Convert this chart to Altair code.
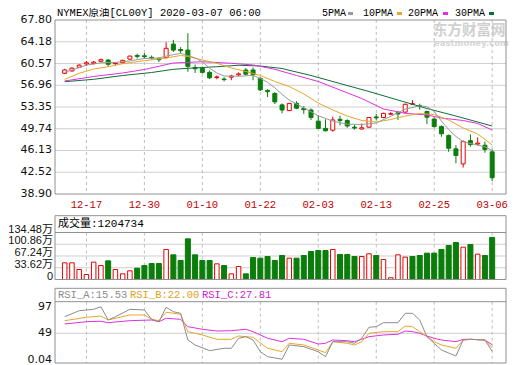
import altair as alt
import pandas as pd

# ---------------- data ----------------
opens = [58.95, 59.35, 59.95, 60.5, 60.6, 60.95, 61.15, 60.55, 60.7, 61.3,
         61.9, 61.85, 61.6, 61.35, 61.55, 63.8, 62.9, 62.8, 59.9, 59.8,
         59.1, 58.25, 58.0, 58.3, 58.7, 59.5, 59.5, 58.1, 56.1, 55.6,
         53.7, 52.75, 53.95, 53.1, 52.85, 51.0, 49.8, 49.5, 51.3, 51.1,
         50.0, 49.7, 50.0, 51.7, 51.6, 52.15, 52.4, 52.5, 53.8, 53.6,
         52.6, 51.35, 50.1, 48.6, 46.4, 43.9, 47.75, 47.2, 47.0, 45.9]
highs = [59.7, 59.95, 60.45, 61.0, 61.0, 61.4, 61.3, 60.8, 61.2, 61.9,
         62.2, 62.3, 61.9, 61.6, 64.1, 64.5, 63.3, 65.6, 60.4, 60.05,
         59.4, 58.6, 58.3, 58.7, 59.1, 59.8, 59.9, 58.3, 56.3, 55.8,
         53.95, 54.0, 54.3, 53.5, 53.1, 52.0, 51.3, 51.75, 51.9, 51.3,
         50.4, 50.6, 51.7, 52.2, 52.4, 52.5, 52.7, 53.9, 54.5, 53.9,
         52.75, 51.6, 50.3, 48.8, 47.0, 47.8, 48.8, 48.3, 47.6, 46.3]
lows = [58.8, 59.2, 59.85, 60.2, 60.4, 60.8, 60.05, 60.3, 60.6, 61.2,
        61.4, 61.4, 61.2, 60.8, 61.4, 62.5, 62.3, 59.2, 59.0, 58.9,
        58.0, 57.95, 57.6, 57.8, 58.5, 58.6, 57.8, 56.0, 55.0, 53.85,
        52.3, 52.7, 53.0, 52.2, 51.2, 49.7, 49.3, 49.25, 50.3, 49.9,
        49.6, 49.6, 49.9, 51.1, 51.5, 52.0, 51.2, 52.4, 53.75, 52.9,
        50.5, 49.9, 48.4, 45.9, 44.0, 43.3, 46.75, 47.0, 45.75, 41.05]
closes = [59.5, 59.8, 60.3, 60.7, 60.8, 61.2, 60.45, 60.65, 61.1, 61.8,
          61.75, 61.7, 61.5, 61.2, 63.1, 62.8, 62.7, 60.1, 59.7, 59.1,
          58.2, 58.35, 57.9, 58.5, 58.85, 58.8, 58.7, 56.2, 55.9, 54.2,
          52.85, 53.95, 53.15, 52.9, 51.6, 49.8, 49.4, 51.2, 51.1, 50.2,
          49.85, 49.9, 51.6, 51.55, 52.3, 52.25, 52.2, 53.8, 53.9, 53.45,
          51.65, 50.1, 48.9, 46.5, 45.3, 47.6, 47.1, 47.35, 46.3, 41.6]
# volume in 万
volume = [47.7, 47.7, 28.6, 14.3, 49.6, 40.0, 53.4, 28.6, 16.2, 24.8,
          32.4, 40.0, 45.8, 45.8, 85.9, 70.6, 54.4, 116.4, 70.6, 54.4,
          54.4, 44.8, 40.0, 16.2, 37.2, 16.2, 63.0, 61.0, 65.8, 54.4,
          68.7, 61.0, 61.0, 68.7, 80.1, 83.0, 83.0, 85.9, 71.6, 71.6,
          65.8, 65.8, 73.5, 68.7, 57.2, 5.0, 70.6, 63.9, 65.8, 68.7,
          75.4, 75.4, 85.9, 97.3, 105.9, 92.5, 100.2, 72.5, 68.7, 120.47]
vol_up = [1, 1, 1, 1, 1, 1, 0, 1, 1, 1,
          0, 0, 0, 0, 1, 0, 0, 0, 0, 0,
          0, 1, 0, 1, 1, 0, 0, 0, 0, 0,
          0, 1, 0, 0, 0, 0, 0, 1, 0, 0,
          0, 1, 1, 0, 1, 1, 1, 1, 0, 0,
          0, 0, 0, 0, 0, 1, 0, 1, 0, 0]

tick_idx = [3, 11, 19, 27, 35, 43, 51, 59]
tick_lab = ["12-17", "12-30", "01-10", "01-22", "02-03", "02-13", "02-25", "03-06"]

price_ticks = [67.80, 64.18, 60.57, 56.96, 53.35, 49.74, 46.13, 42.52, 38.90]
price_labels = ["67.80", "64.18", "60.57", "56.96", "53.35", "49.74", "46.13", "42.52", "38.90"]
vol_ticks = [134.48, 100.86, 67.24, 33.62, 0]
vol_labels = ["134.48万", "100.86万", "67.24万", "33.62万", "0"]
rsi_ticks = [97, 49, 0.04]
rsi_labels = ["97", "49", "0.04"]

ma5_idx = [0, 1, 3, 5, 7, 9, 11, 13, 14, 15, 16, 17, 18, 19, 20, 21, 22, 24, 26, 27, 28,
           29, 30, 31, 33, 35, 37, 39, 41, 43, 45, 47, 49, 50, 51, 52, 53, 54, 55, 57, 58, 59]
ma5_val = [59.1, 59.5, 60.3, 60.7, 60.75, 61.0, 61.4, 61.5, 61.8, 62.05, 62.25, 61.9, 61.5,
           60.85, 59.8, 59.0, 58.5, 58.45, 58.6, 58.1, 57.45, 56.55, 55.45, 54.5, 53.2, 51.9,
           51.0, 50.5, 50.45, 50.7, 51.8, 53.0, 53.55, 53.4, 52.6, 51.0, 49.6, 48.45, 47.6,
           47.0, 46.75, 46.1]
ma10_idx = [0, 2, 4, 6, 8, 11, 14, 16, 17, 19, 21, 23, 25, 27, 29, 31, 33, 35, 37, 39, 41,
            43, 45, 47, 49, 51, 53, 55, 57, 59]
ma10_val = [57.95, 58.95, 59.66, 60.04, 60.54, 61.04, 61.49, 61.9, 61.74, 61.16, 60.61,
            59.83, 59.25, 58.58, 57.59, 56.75, 55.51, 54.01, 52.85, 51.85, 51.11, 50.86,
            51.27, 51.85, 52.27, 52.1, 51.19, 49.86, 48.87, 47.04]
ma20_idx = [0, 4, 8, 11, 15, 19, 23, 26, 29, 32, 35, 38, 41, 44, 47, 50, 52, 55, 57, 59]
ma20_val = [57.67, 58.42, 59.0, 59.58, 60.66, 60.87, 60.61, 60.33, 59.61, 58.58, 57.59,
            56.17, 54.76, 53.02, 52.3, 52.02, 51.52, 51.11, 50.61, 49.53]
ma30_idx = [0, 4, 8, 12, 15, 17, 21, 24, 27, 30, 34, 38, 42, 46, 50, 54, 59]
ma30_val = [57.55, 57.95, 58.58, 59.08, 59.61, 59.78, 60.04, 60.28, 60.16, 59.74, 58.58,
            57.25, 55.92, 54.51, 53.1, 51.85, 50.19]

rsia_idx = [0, 2, 4, 5, 6, 7, 9, 11, 12, 13, 14, 15, 16, 17, 18, 20, 22, 23, 24, 25, 26, 27,
            28, 29, 30, 31, 33, 35, 36, 37, 39, 40, 41, 42, 43, 44, 46, 47, 48, 49, 50, 51,
            52, 53, 54, 55, 56, 58, 59]
rsia_val = [79.6, 90.7, 93.3, 98.0, 73.6, 79.6, 93.3, 92.0, 74.8, 70.4, 97.0, 88.9, 85.9,
            36.6, 27.4, 16.9, 21.3, 21.3, 39.8, 42.7, 36.6, 15.0, 5.8, 3.5, 1.0, 27.4, 24.3,
            15.0, 5.8, 33.5, 33.5, 30.5, 39.8, 60.1, 61.2, 68.6, 68.6, 85.9, 85.9, 73.6, 42.7,
            30.5, 18.2, 12.6, 7.1, 36.6, 37.9, 36.6, 15.53]
rsib_idx = [0, 3, 5, 6, 9, 11, 12, 13, 14, 16, 17, 19, 21, 23, 24, 26, 27, 28, 30, 31, 33,
            35, 36, 37, 39, 40, 41, 42, 44, 46, 47, 48, 49, 50, 51, 52, 54, 55, 56, 58, 59]
rsib_val = [72.3, 78.5, 80.9, 73.6, 82.8, 82.8, 74.8, 72.3, 87.8, 84.1, 52.0, 45.9, 37.9,
            37.9, 44.0, 41.6, 31.0, 21.3, 15.0, 30.5, 27.4, 18.2, 13.2, 33.5, 30.5, 27.4,
            33.5, 49.0, 52.0, 52.0, 62.5, 61.2, 52.0, 42.7, 33.5, 27.4, 21.3, 36.6, 37.9,
            36.6, 22.0]
rsic_idx = [0, 3, 5, 6, 9, 12, 13, 14, 16, 17, 19, 21, 23, 25, 26, 27, 28, 30, 31, 33, 35,
            36, 37, 39, 40, 41, 42, 44, 46, 47, 48, 49, 50, 51, 52, 54, 55, 56, 58, 59]
rsic_val = [66.2, 70.4, 71.2, 68.6, 72.3, 73.6, 70.4, 76.7, 74.8, 61.2, 56.4, 53.2, 53.8,
            56.4, 52.0, 45.9, 39.8, 33.5, 39.8, 37.9, 29.2, 30.5, 36.6, 35.3, 33.5, 37.9,
            42.7, 45.9, 47.2, 53.2, 52.0, 49.0, 44.0, 39.8, 36.6, 33.5, 37.9, 37.9, 36.6,
            27.81]

assert len(opens) == len(highs) == len(lows) == len(closes) == len(volume) == len(vol_up) == 60

# ---------------- styling ----------------
RED = "#e60000"
GREEN = "#0b7d0b"
C5 = "#9a9a9a"
C10 = "#e8a62a"
C20 = "#e030e0"
C30 = "#146b3a"
FRAME = "#909090"
GRID = "#cfcfcf"
VGRID = "#bdbdbd"
MONO = "Liberation Mono, Noto Sans CJK SC"
SANS = "DejaVu Sans, Noto Sans CJK SC"
NARROW = "Liberation Sans, Noto Sans CJK SC"
W, H = 451, 343

df = pd.DataFrame({"i": list(range(60)), "o": opens, "h": highs, "l": lows,
                   "c": closes, "v": volume, "vu": vol_up})
df["up"] = df["c"] >= df["o"]
ticks_df = pd.DataFrame({"i": tick_idx, "lab": tick_lab})
one = pd.DataFrame({"a": [0]})

xs = alt.Scale(domain=[-0.648, 60.22], nice=False, zero=False)
X = alt.X("i:Q", scale=xs, axis=None)
ys_main = alt.Scale(domain=[38.9, 67.8], range=[174, 0], nice=False, zero=False)
ys_vol = alt.Scale(domain=[0, 134.48], range=[259.5, 212.5], nice=False)
ys_rsi = alt.Scale(domain=[0.04, 97], range=[339.8, 287.3], nice=False, zero=False)


def Yf(field, sc):
    return alt.Y(field, type="quantitative", scale=sc, axis=None)


# ---------------- main panel ----------------
pt = pd.DataFrame({"v": price_ticks, "lab": price_labels})
main_layers = [
    alt.Chart(pt.iloc[1:-1]).mark_rule(color=GRID, strokeWidth=1).encode(
        y=Yf("v", ys_main), x=alt.value(0), x2=alt.value(W)),
    alt.Chart(ticks_df).mark_rule(color=VGRID, strokeDash=[3, 3], strokeWidth=1).encode(
        x=X, y=alt.value(0), y2=alt.value(174)),
    alt.Chart(df).transform_filter("datum.up").mark_rule(color=RED, strokeWidth=1).encode(
        x=X, y=Yf("l", ys_main), y2=alt.Y2("h")),
    alt.Chart(df).transform_filter("!datum.up").mark_rule(color=GREEN, strokeWidth=1).encode(
        x=X, y=Yf("l", ys_main), y2=alt.Y2("h")),
    alt.Chart(df).transform_filter("datum.up").mark_bar(
        size=4, fill="white", stroke=RED, strokeWidth=1).encode(
        x=X, y=Yf("o", ys_main), y2=alt.Y2("c")),
    alt.Chart(df).transform_filter("!datum.up").mark_bar(
        size=4, fill=GREEN, stroke=GREEN, strokeWidth=1).encode(
        x=X, y=Yf("o", ys_main), y2=alt.Y2("c")),
]
for idx, val, col in [(ma30_idx, ma30_val, C30), (ma20_idx, ma20_val, C20),
                      (ma10_idx, ma10_val, C10), (ma5_idx, ma5_val, C5)]:
    main_layers.append(
        alt.Chart(pd.DataFrame({"i": idx, "v": val})).mark_line(
            color=col, strokeWidth=1).encode(x=X, y=Yf("v", ys_main)))
main_layers.append(
    alt.Chart(pt).mark_text(align="right", baseline="middle", font=SANS,
                            fontSize=11, color="#111").encode(
        y=Yf("v", ys_main), x=alt.value(-3), text="lab:N"))
main_panel = alt.layer(*main_layers)

# ---------------- volume panel ----------------
vt = pd.DataFrame({"v": vol_ticks, "lab": vol_labels})
vol_panel = alt.layer(
    alt.Chart(vt.iloc[1:-1]).mark_rule(color=GRID, strokeWidth=1).encode(
        y=Yf("v", ys_vol), x=alt.value(0), x2=alt.value(W)),
    alt.Chart(ticks_df).mark_rule(color=VGRID, strokeDash=[3, 3], strokeWidth=1).encode(
        x=X, y=alt.value(212.5), y2=alt.value(259.5)),
    alt.Chart(df).transform_filter("datum.vu == 1").mark_bar(
        size=4.5, fill="white", stroke=RED, strokeWidth=1).encode(x=X, y=Yf("v", ys_vol)),
    alt.Chart(df).transform_filter("datum.vu == 0").mark_bar(
        size=5, fill=GREEN, stroke=GREEN, strokeWidth=1).encode(x=X, y=Yf("v", ys_vol)),
    alt.Chart(vt).mark_text(align="right", baseline="middle", font=NARROW, fontSize=11,
                            dy=-3, color="#111").encode(
        y=Yf("v", ys_vol), x=alt.value(-2), text="lab:N"),
)

# ---------------- RSI panel ----------------
rt = pd.DataFrame({"v": rsi_ticks, "lab": rsi_labels})
rsi_layers = [
    alt.Chart(rt.iloc[1:2]).mark_rule(color=GRID, strokeWidth=1).encode(
        y=Yf("v", ys_rsi), x=alt.value(0), x2=alt.value(W)),
    alt.Chart(ticks_df).mark_rule(color=VGRID, strokeDash=[3, 3], strokeWidth=1).encode(
        x=X, y=alt.value(281.7), y2=alt.value(H)),
]
for idx, val, col in [(rsic_idx, rsic_val, C20), (rsib_idx, rsib_val, C10),
                      (rsia_idx, rsia_val, "#8c8c8c")]:
    rsi_layers.append(
        alt.Chart(pd.DataFrame({"i": idx, "v": val})).mark_line(
            color=col, strokeWidth=1).encode(x=X, y=Yf("v", ys_rsi)))
rsi_layers.append(
    alt.Chart(rt).mark_text(align="right", baseline="middle", font=SANS, fontSize=11,
                            color="#111").encode(
        y=Yf("v", ys_rsi), x=alt.value(-3), text="lab:N"))
rsi_panel = alt.layer(*rsi_layers)

# ---------------- frames, headers, texts ----------------
def frame(y0, y1):
    return alt.Chart(one).mark_rect(fillOpacity=0, stroke=FRAME, strokeWidth=1).encode(
        x=alt.value(0), x2=alt.value(W), y=alt.value(y0), y2=alt.value(y1))


def hline(y):
    return alt.Chart(one).mark_rule(color=FRAME, strokeWidth=1).encode(
        x=alt.value(0), x2=alt.value(W), y=alt.value(y))


def txt(s, x, y, color="#000", size=10.5, font=MONO, align="left", baseline="middle", bold=False):
    return alt.Chart(one).mark_text(text=s, align=align, baseline=baseline, font=font,
                                    fontSize=size, color=color,
                                    fontWeight="bold" if bold else "normal").encode(
        x=alt.value(x), y=alt.value(y))


def marker(x, y, color):
    return alt.Chart(one).mark_rule(color=color, strokeWidth=3).encode(
        x=alt.value(x), x2=alt.value(x + 5), y=alt.value(y))


watermark = [
    txt("东方财富网", 378, 11, color="#d0d0d0", size=14.5, font="Noto Sans CJK SC", bold=True),
    txt("eastmoney.com", 379, 22.5, color="#d6d6d6", size=8.5, font="DejaVu Sans", bold=True),
]

deco = [
    frame(0, 174),
    frame(195.7, 259.5), hline(212.5),
    frame(268.3, H), hline(281.7),
    txt("NYMEX原油[CL00Y] 2020-03-07 06:00", 2, -12, baseline="top"),
    txt("5PMA", 267, -12, size=10, baseline="top"), marker(293, -6.5, C5),
    txt("10PMA", 308, -12, size=10, baseline="top"), marker(342, -6.5, C10),
    txt("20PMA", 353, -12, size=10, baseline="top"), marker(388, -6.5, C20),
    txt("30PMA", 400, -12, size=10, baseline="top"), marker(434, -6.5, C30),
    txt("成交量:1204734", 3, 204.3, size=11),
    txt("RSI_A:15.53", 3, 275, color="#8c8c8c"),
    txt("RSI_B:22.00", 75, 275, color="#e0a020"),
    txt("RSI_C:27.81", 147, 275, color="#d020d0"),
]

xlabels = alt.Chart(ticks_df).mark_text(align="center", baseline="middle", font=MONO,
                                        fontSize=10.5, color="#c00000").encode(
    x=X, y=alt.value(185), text="lab:N")

chart = alt.layer(
    *watermark, main_panel, vol_panel, rsi_panel, xlabels, *deco
).resolve_scale(y="independent").properties(
    width=W, height=H,
    autosize=alt.AutoSizeParams(type="none"),
    padding={"left": 47, "top": 12, "right": 6, "bottom": 2},
).configure_view(strokeWidth=0)

chart.save("out.html", embed_options={"renderer": "svg", "actions": False})
